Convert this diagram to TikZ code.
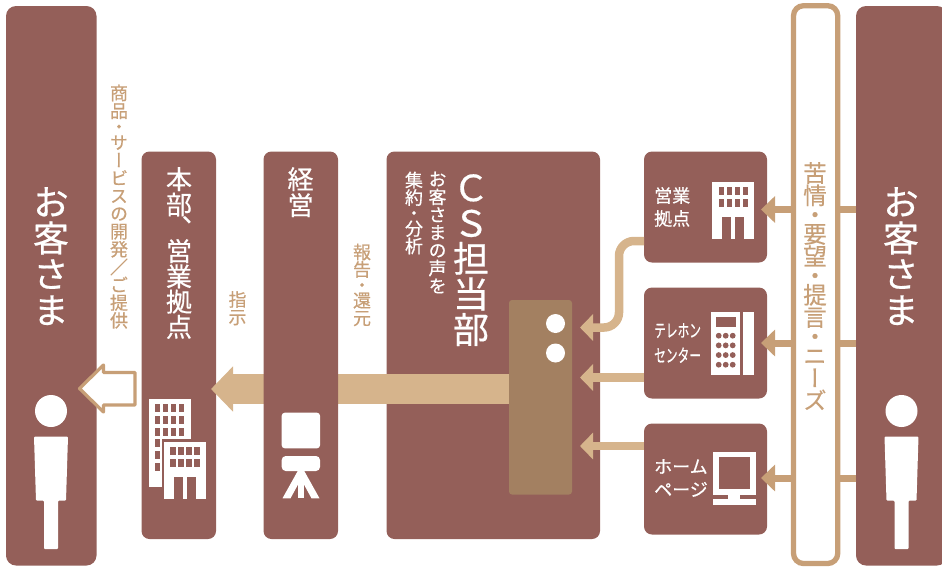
\documentclass[tikz,border=0pt]{standalone}
\usepackage{fontspec}
\usepackage{graphicx}
\newfontfamily\cjkv[RawFeature={+vert},FakeBold=0.5]{Noto Sans CJK JP}
\newfontfamily\cjkh[FakeBold=0.5]{Noto Sans CJK JP}
\usetikzlibrary{arrows.meta}
\definecolor{boxbrown}{HTML}{945F59}
\definecolor{hubbrown}{HTML}{A38061}
\definecolor{flowtan}{HTML}{D6B48C}
\definecolor{linetan}{HTML}{C79F77}
\tikzset{
    panel/.style={fill=boxbrown,rounded corners=10pt,anchor=north west,inner sep=0pt,outer sep=0pt},
    column/.style={panel,rounded corners=8pt,minimum height=387.5pt},
    smallbox/.style={panel,rounded corners=8pt,minimum width=123pt,minimum height=111pt},
    vtext/.style={anchor=north,align=center,inner sep=0pt,text=#1},
    vtext/.default=white,
    htext/.style={anchor=west,align=left,inner sep=0pt,text=white,font=\cjkh\fontsize{18}{23}\selectfont},
    flow/.style={draw=flowtan,line width=8.5pt,-{Triangle[length=13pt,width=26pt]}},
    need/.style={draw=linetan,line width=7pt,-{Triangle[length=14pt,width=26pt]}},
    tie/.style={draw=linetan,line width=7pt},
    pics/person/.style={code={
        \fill[white] (0,0) circle (16);
        \fill[white,rounded corners=1pt] (-17,25.5) -- (17,25.5) -- (15,89.7) -- (7,89.7)
            -- (7,138) -- (-7,138) -- (-7,89.7) -- (-15,89.7) -- cycle;
    }},
    pics/office/.style={code={
        \fill[white] (0,0) rectangle (42,57.3);
        \foreach \i in {0,1,2,3} {
            \foreach \j in {0,1} {
                \fill[boxbrown] (6.3+8*\i,5.6+11.7*\j) rectangle +(5.4,8);
            }
        }
        \fill[boxbrown] (10,35) rectangle (18.7,57.3);
        \fill[boxbrown] (22.7,35) rectangle (31.7,57.3);
    }},
}
\begin{document}
\begin{tikzpicture}[x=1pt,y=-1pt]
    \useasboundingbox (0,0) rectangle (942,566);

    \node[panel,minimum width=90.5pt,minimum height=559.5pt] (custL) at (6,6) {};
    \node[panel,minimum width=91pt,minimum height=559.5pt] (custR) at (856,6) {};
    \node[column,minimum width=74.5pt] (honbu) at (141.5,151.5) {};
    \node[column,minimum width=213.5pt] (cs) at (386.5,151.5) {};
    \node[panel,fill=white,draw=linetan,line width=5.3pt,minimum width=44.2pt,minimum height=557.8pt] (needs) at (793.5,5.7) {};

    % points where the arrows end
    \coordinate (tipMain) at (211,389);
    \coordinate (tipA) at (580,327.5);
    \coordinate (tipB) at (580,377.5);
    \coordinate (tipC) at (580,446);
    \coordinate (bendA) at (619,241);
    \coordinate (bendB) at (619,327.5);
    \coordinate (needA) at (761,209.5);
    \coordinate (needB) at (761,343);
    \coordinate (needC) at (761,478);

    \node[panel,fill=hubbrown,rounded corners=3pt,minimum width=63pt,minimum height=194.5pt] (hub) at (509,300) {};
    \draw[draw=flowtan,line width=30pt,-{Triangle[length=22pt,width=44pt]}] (hub.west |- tipMain) -- (tipMain);
    \node[column,minimum width=74.5pt] (keiei) at (263.5,151.5) {};

    \node[smallbox] (eigyo) at (644,151.5) {};
    \node[smallbox] (tel) at (644,287.5) {};
    \node[smallbox] (home) at (644,423.5) {};

    \draw[flow,rounded corners=15pt] (eigyo.west |- bendA) -- (bendA) -- (bendB) -- (tipA);
    \draw[flow] (tel.west |- tipB) -- (tipB);
    \draw[flow] (home.west |- tipC) -- (tipC);
    \foreach \p in {needA,needB,needC} {
        \draw[need] (needs.west |- \p) -- (\p);
        \draw[tie] (custR.west |- \p) -- (needs.east |- \p);
    }

    % outlined arrow to the customer
    \draw[draw=linetan,fill=white,line width=3.2pt,line join=round]
        (135,372.5) -- (103.5,372.5) -- (103.5,365) -- (79.5,388.5) -- (103.5,412)
        -- (103.5,405) -- (135,405) -- cycle;

    \fill[white] (555.5,323.5) circle (9.5);
    \fill[white] (555.5,353) circle (9.5);

    % texts
    \node[vtext,font=\cjkv\fontsize{36}{36}\selectfont] (labelL) at (51,187) {お\\客\\さ\\ま};
    \node[vtext,font=\cjkv\fontsize{36}{36}\selectfont] (labelR) at (901,187) {お\\客\\さ\\ま};
    \node[vtext,font=\cjkv\fontsize{26}{25.3}\selectfont] (labelHonbu) at (179,167) {本\\部\\[-2pt]、\\[-2pt]営\\業\\拠\\点};
    \node[vtext,font=\cjkv\fontsize{26}{26}\selectfont] (labelKeiei) at (300.5,167) {経\\営};
    \node[vtext,font=\cjkv\fontsize{36}{35.5}\selectfont] (labelCs) at (471,174) {Ｃ\\Ｓ\\担\\当\\部};
    \node[vtext,font=\cjkv\fontsize{18}{17.8}\selectfont] (labelVoice) at (437.5,171.5) {お\\客\\さ\\ま\\の\\声\\を};
    \node[vtext,font=\cjkv\fontsize{18}{17.5}\selectfont] (labelSum) at (414,171.5) {集\\約\\[-2pt]・\\[-2pt]分\\析};
    \node[vtext=linetan,font=\cjkv\fontsize{18}{17.8}\selectfont] (labelGoods) at (119,84.5)
        {商\\品\\[-2pt]・\\[-2pt]サ\\ー\\ビ\\ス\\の\\開\\発\\／\\ご\\提\\供};
    \node[vtext=linetan,font=\cjkv\fontsize{18}{17.5}\selectfont] (labelOrder) at (237.5,291) {指\\示};
    \node[vtext=linetan,font=\cjkv\fontsize{18}{17.5}\selectfont] (labelReport) at (362,243.5) {報\\告\\[-2pt]・\\[-2pt]還\\元};
    \node[vtext=linetan,font=\cjkv\fontsize{23.5}{22.3}\selectfont] (labelNeeds) at (815,162)
        {苦\\情\\[-3pt]・\\[-3pt]要\\望\\[-3pt]・\\[-3pt]提\\言\\[-3pt]・\\[-3pt]ニ\\ー\\ズ};

    \node[htext] (labelEigyo) at (654,207) {営業\\拠点};
    \node[htext,font=\cjkh\fontsize{18}{25}\selectfont] (labelTel) at (654,343)
        {\scalebox{.65}[1]{テレホン}\\\scalebox{.65}[1]{センター}};
    \node[htext] (labelHome) at (654,478) {ホーム\\ページ};

    % icons
    \pic at (51,411) {person};
    \pic at (901.5,411) {person};

    \fill[white] (149,399) rectangle (190.7,439);
    \fill[white] (149,439) rectangle (161.7,486.7);
    \foreach \i in {0,1,2,3} {
        \foreach \j in {0,1,2} {
            \fill[boxbrown] (155+8*\i,404.3+11.7*\j) rectangle +(5.3,8);
        }
    }
    \foreach \j in {3,4,5} {
        \fill[boxbrown] (155,404.3+11.7*\j) rectangle +(5.3,8);
    }
    \pic at (164,441.7) {office};
    \pic at (712.3,181.7) {office};

    \fill[white,rounded corners=3pt] (281.7,412.7) rectangle (320,448.3);
    \fill[white,rounded corners=4pt] (281.7,456) rectangle (320,471);
    \fill[white] (298.3,470) rectangle (303.7,498.3);
    \fill[white] (298.3,470) -- (282.5,498.3) -- (290.5,498.3) -- (298.3,484) -- cycle;
    \fill[white] (303.7,470) -- (319.5,498.3) -- (311.5,498.3) -- (303.7,484) -- cycle;

    \fill[white] (711,311.7) rectangle (740,375);
    \fill[white] (743.3,311.7) rectangle (754,375);
    \fill[boxbrown] (716,316.7) rectangle (736,326.7);
    \foreach \i in {0,1,2} {
        \foreach \j in {0,1,2,3} {
            \fill[boxbrown] (718.7+7*\i,335.7+9.67*\j) circle (2.9);
        }
    }

    \draw[white,line width=5.5pt] (716,454.5) rectangle (752.8,492);
    \fill[white] (728,494) rectangle (740,500);
    \fill[white] (713,499) rectangle (756,505);
\end{tikzpicture}
\end{document}
